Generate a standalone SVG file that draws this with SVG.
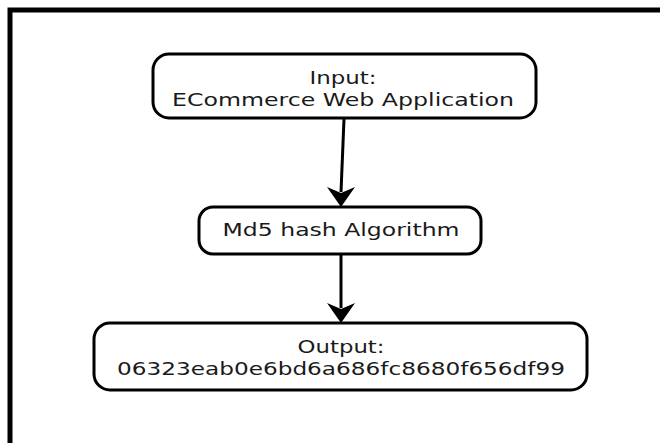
<svg xmlns="http://www.w3.org/2000/svg" width="660" height="443" viewBox="0 0 660 443">
  <style>
    .box { fill: #ffffff; stroke: #000000; stroke-width: 3; }
    .lbl { font-family: "DejaVu Sans", Verdana, sans-serif; font-size: 17.5px; fill: #1a1a1a; text-anchor: middle; }
    .edge { stroke: #000000; stroke-width: 3; fill: none; }
    .head { fill: #000000; stroke: none; }
  </style>
  <rect x="0" y="0" width="660" height="443" fill="#ffffff"/>
  <path d="M10 443 V10 H660" fill="none" stroke="#000000" stroke-width="5"/>
  <g id="connectors">
    <path class="edge" d="M344 119 L341 192"/>
    <path class="head" d="M341 207 L327 187 L341 193 L355 187 Z"/>
    <path class="edge" d="M341 254 L341 308"/>
    <path class="head" d="M341 323 L327 303 L341 309 L355 303 Z"/>
  </g>
  <g id="input">
    <rect class="box" x="153" y="54" width="383" height="64" rx="16" ry="16"/>
    <text class="lbl" x="343" y="84" textLength="67" lengthAdjust="spacingAndGlyphs">Input:</text>
    <text class="lbl" x="343" y="106" textLength="342" lengthAdjust="spacingAndGlyphs">ECommerce Web Application</text>
  </g>
  <g id="md5">
    <rect class="box" x="199" y="207" width="282" height="47" rx="14" ry="14"/>
    <text class="lbl" x="341" y="236" textLength="237" lengthAdjust="spacingAndGlyphs">Md5 hash Algorithm</text>
  </g>
  <g id="output">
    <rect class="box" x="94" y="323" width="493" height="67" rx="16" ry="16"/>
    <text class="lbl" x="341" y="353" textLength="87" lengthAdjust="spacingAndGlyphs">Output:</text>
    <text class="lbl" x="341" y="375" textLength="448" lengthAdjust="spacingAndGlyphs">06323eab0e6bd6a686fc8680f656df99</text>
  </g>
</svg>
